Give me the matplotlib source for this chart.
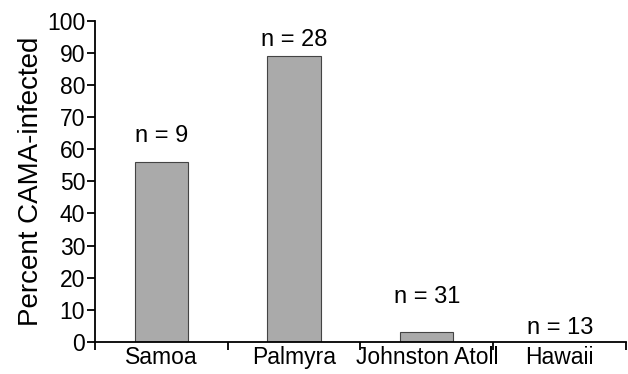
import numpy as np
import matplotlib
matplotlib.use("Agg")
from matplotlib import pyplot as plt

sites = ["Samoa", "Palmyra", "Johnston Atoll", "Hawaii"]
percent_infected = [56, 89, 3, 0]
sample_sizes = [9, 28, 31, 13]

plt.rcParams['font.family'] = ['Liberation Sans', 'DejaVu Sans']

fig = plt.figure(figsize=(6.28, 3.74), dpi=100)
ax = fig.add_axes([0.151, 0.086, 0.846, 0.858])

x = np.arange(len(sites))
ax.bar(x, percent_infected, width=0.4, color='#aaaaaa', edgecolor='#444444', linewidth=0.8)

# label offsets above bars, as in the original figure
offsets = [8, 5, 11, 4.4]
for xi, v, n, off in zip(x, percent_infected, sample_sizes, offsets):
    ax.text(xi, v + off, "n = %d" % n, ha='center', va='center', fontsize=17)

ax.set_xlim(-0.5, len(sites) - 0.5)
ax.set_ylim(0, 100)
ax.set_yticks(np.arange(0, 101, 10))
ax.set_xticks(x)
ax.set_xticklabels(sites)
ax.set_xticks(np.arange(-0.5, len(sites), 1), minor=True)
ax.tick_params(axis='x', which='major', length=0, pad=3, labelsize=16.5)
ax.tick_params(axis='x', which='minor', length=6, width=1.3, direction='out')
ax.tick_params(axis='y', length=6, width=1.3, direction='out', pad=1, labelsize=16.5)
ax.set_ylabel("Percent CAMA-infected", fontsize=20, labelpad=2)

for s in ['top', 'right']:
    ax.spines[s].set_visible(False)
for s in ['left', 'bottom']:
    ax.spines[s].set_linewidth(1.3)

fig.savefig("out.png", dpi=100)
